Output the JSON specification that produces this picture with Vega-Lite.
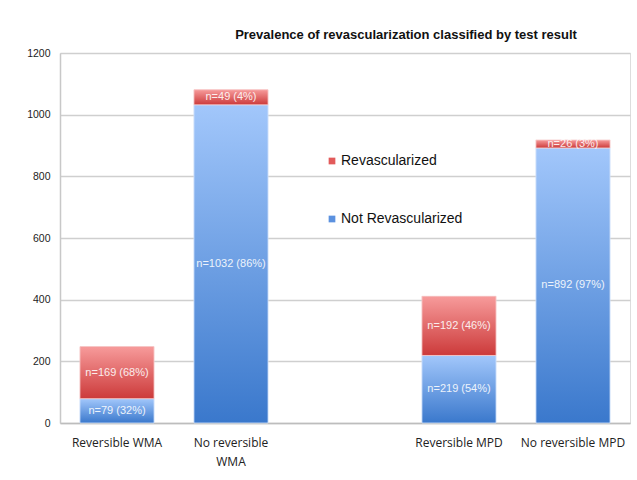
{
  "$schema": "https://vega.github.io/schema/vega-lite/v6.json",
  "width": 570,
  "height": 370,
  "autosize": {"type": "none"},
  "padding": {"left": 60, "top": 53, "right": 7, "bottom": 57},
  "background": "#ffffff",
  "title": {
    "text": "Prevalence of revascularization classified by test result",
    "font": "Liberation Sans",
    "fontSize": 13,
    "fontWeight": "bold",
    "color": "#111111",
    "offset": 6,
    "dx": 61
  },
  "data": {
    "values": [
      {"cat": "Reversible WMA", "series": "Not Revascularized", "n": 79, "label": "n=79 (32%)"},
      {"cat": "Reversible WMA", "series": "Revascularized", "n": 169, "label": "n=169 (68%)"},
      {"cat": "No reversible WMA", "series": "Not Revascularized", "n": 1032, "label": "n=1032 (86%)"},
      {"cat": "No reversible WMA", "series": "Revascularized", "n": 49, "label": "n=49 (4%)"},
      {"cat": "Reversible MPD", "series": "Not Revascularized", "n": 219, "label": "n=219 (54%)"},
      {"cat": "Reversible MPD", "series": "Revascularized", "n": 192, "label": "n=192 (46%)"},
      {"cat": "No reversible MPD", "series": "Not Revascularized", "n": 892, "label": "n=892 (97%)"},
      {"cat": "No reversible MPD", "series": "Revascularized", "n": 26, "label": "n=26 (3%)"}
    ]
  },
  "transform": [
    {"stack": "n", "groupby": ["cat"], "sort": [{"field": "series", "order": "ascending"}], "as": ["y0", "y1"]}
  ],
  "encoding": {
    "x": {
      "field": "cat",
      "type": "nominal",
      "scale": {
        "domain": ["Reversible WMA", "No reversible WMA", " ", "Reversible MPD", "No reversible MPD"],
        "paddingInner": 0.35,
        "paddingOuter": 0.175
      },
      "axis": {
        "title": null,
        "labelAngle": 0,
        "labelFont": "Open Sans",
        "labelFontSize": 12,
        "labelColor": "#222222",
        "labelPadding": 14,
        "labelLineHeight": 19,
        "labelLimit": 300,
        "labelOverlap": false,
        "ticks": false,
        "domainColor": "#bdbdbd",
        "domainWidth": 1.5,
        "labelExpr": "datum.value == 'No reversible WMA' ? ['No reversible', 'WMA'] : datum.value"
      }
    }
  },
  "layer": [
    {
      "mark": {"type": "bar"},
      "encoding": {
        "y": {
          "field": "y0",
          "type": "quantitative",
          "scale": {"domain": [0, 1200], "nice": false},
          "axis": {
            "title": null,
            "values": [0, 200, 400, 600, 800, 1000, 1200],
            "format": "d",
            "labelFont": "Liberation Sans",
            "labelFontSize": 10.5,
            "labelColor": "#222222",
            "labelPadding": 10,
            "ticks": false,
            "domain": true,
            "domainColor": "#c8c8c8",
            "domainWidth": 1.5,
            "gridColor": "#cfcfcf",
            "gridWidth": 1.5
          }
        },
        "y2": {"field": "y1"},
        "color": {
          "field": "series",
          "type": "nominal",
          "scale": {"domain": ["Revascularized", "Not Revascularized"], "range": ["#e25a5a", "#5b91df"]},
          "legend": {
            "title": null,
            "orient": "none",
            "legendX": 265,
            "legendY": 101,
            "padding": 0,
            "symbolType": "square",
            "symbolSize": 45,
            "symbolStrokeWidth": 0,
            "labelFont": "Liberation Sans",
            "labelFontSize": 14,
            "labelColor": "#111111",
            "labelOffset": 2,
            "rowPadding": 44
          }
        }
      }
    },
    {
      "transform": [{"filter": "datum.series === 'Not Revascularized'"}],
      "mark": {
        "type": "bar",
        "stroke": "#d6e6fb",
        "strokeWidth": 0.8,
        "color": {
          "gradient": "linear",
          "x1": 0, "y1": 0, "x2": 0, "y2": 1,
          "stops": [
            {"offset": 0, "color": "#a2c7fb"},
            {"offset": 1, "color": "#3a78cc"}
          ]
        }
      },
      "encoding": {
        "y": {"field": "y0", "type": "quantitative"},
        "y2": {"field": "y1"}
      }
    },
    {
      "transform": [{"filter": "datum.series === 'Revascularized'"}],
      "mark": {
        "type": "bar",
        "stroke": "#f7d0d0",
        "strokeWidth": 0.8,
        "color": {
          "gradient": "linear",
          "x1": 0, "y1": 0, "x2": 0, "y2": 1,
          "stops": [
            {"offset": 0, "color": "#f79b9b"},
            {"offset": 1, "color": "#cc3a3a"}
          ]
        }
      },
      "encoding": {
        "y": {"field": "y0", "type": "quantitative"},
        "y2": {"field": "y1"}
      }
    },
    {
      "transform": [{"fold": ["y0", "y1"], "as": ["k", "v"]}],
      "mark": {
        "type": "text",
        "font": "Liberation Sans",
        "fontSize": 11,
        "color": "#ffffff",
        "opacity": 0.88,
        "baseline": "middle",
        "align": "center"
      },
      "encoding": {
        "y": {"aggregate": "mean", "field": "v", "type": "quantitative"},
        "text": {"field": "label", "type": "nominal"}
      }
    }
  ]
}
